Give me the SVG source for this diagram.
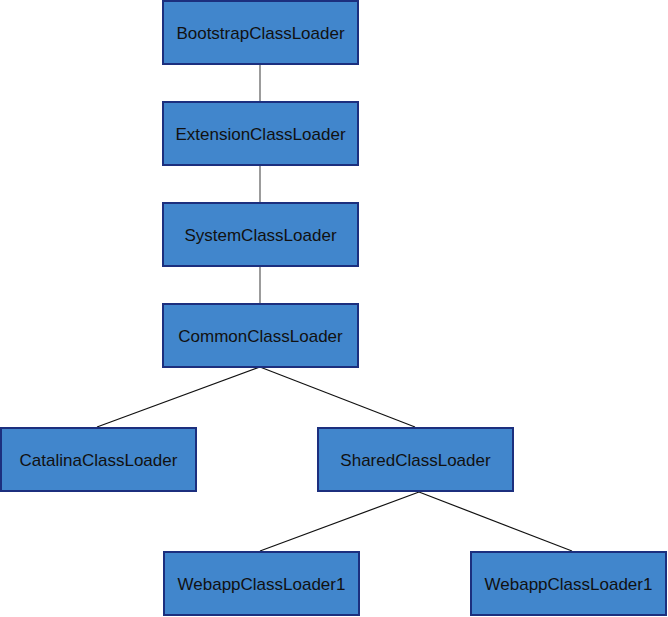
<svg xmlns="http://www.w3.org/2000/svg" width="668" height="617" viewBox="0 0 668 617">
<style>
.box{fill:#4186CC;stroke:#1C2F7E;stroke-width:2}
.lbl{font-family:"Liberation Sans",Arial,sans-serif;font-size:17px;fill:#111;text-anchor:middle;dominant-baseline:central}
.v{stroke:#666;stroke-width:1.3;fill:none}
.d{stroke:#111;stroke-width:1.2;fill:none}
</style>
<rect width="668" height="617" fill="#fff"/>
<g id="connectors">
<line class="v" x1="260" y1="65" x2="260" y2="101"/>
<line class="v" x1="260" y1="166" x2="260" y2="202"/>
<line class="v" x1="260" y1="267" x2="260" y2="303"/>
<line class="d" x1="260" y1="367" x2="97" y2="427"/>
<line class="d" x1="260" y1="367" x2="415" y2="427"/>
<line class="d" x1="419" y1="492" x2="260" y2="551"/>
<line class="d" x1="419" y1="492" x2="572" y2="551"/>
</g>
<g id="bootstrap"><rect class="box" x="163" y="1" width="195" height="63"/><text class="lbl" x="260.5" y="33">BootstrapClassLoader</text></g>
<g id="extension"><rect class="box" x="163" y="102" width="195" height="63"/><text class="lbl" x="260.5" y="134">ExtensionClassLoader</text></g>
<g id="system"><rect class="box" x="163" y="203" width="195" height="63"/><text class="lbl" x="260.5" y="235">SystemClassLoader</text></g>
<g id="common"><rect class="box" x="163" y="304" width="195" height="63"/><text class="lbl" x="260.5" y="336">CommonClassLoader</text></g>
<g id="catalina"><rect class="box" x="1" y="428" width="195" height="63"/><text class="lbl" x="98.5" y="460">CatalinaClassLoader</text></g>
<g id="shared"><rect class="box" x="318" y="428" width="195" height="63"/><text class="lbl" x="415.5" y="460">SharedClassLoader</text></g>
<g id="webapp1"><rect class="box" x="164" y="552" width="195" height="63"/><text class="lbl" x="261.5" y="584">WebappClassLoader1</text></g>
<g id="webapp2"><rect class="box" x="471" y="552" width="195" height="63"/><text class="lbl" x="568.5" y="584">WebappClassLoader1</text></g>
</svg>
